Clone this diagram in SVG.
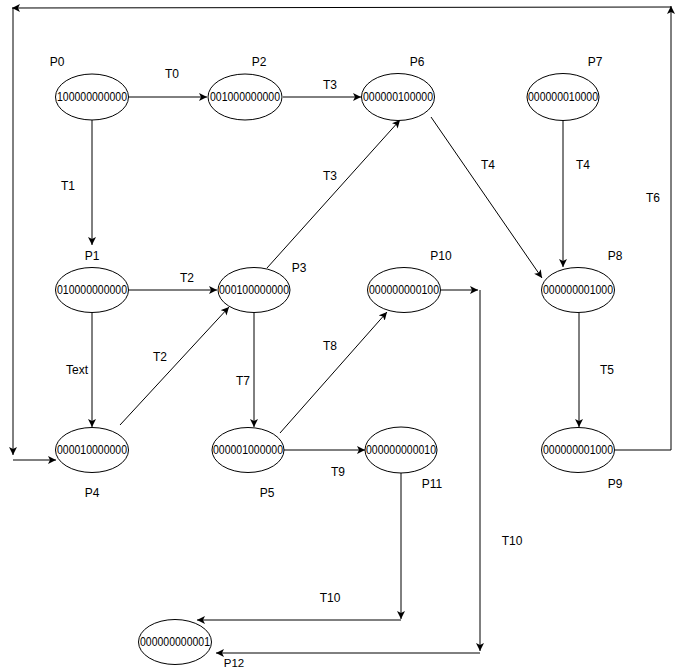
<svg xmlns="http://www.w3.org/2000/svg" width="676" height="669" viewBox="0 0 676 669">
<style>
.n ellipse{fill:#fff;stroke:#000;stroke-width:1}
.n text{font-family:"Liberation Sans",Arial,sans-serif;font-size:12px;fill:#000}
.lbl{font-family:"Liberation Sans",Arial,sans-serif;font-size:12px;fill:#000;text-anchor:middle}
.e path,.e line{fill:none;stroke:#000;stroke-width:1}
</style>
<defs>
<marker id="a" markerUnits="userSpaceOnUse" markerWidth="10" markerHeight="10" refX="8" refY="4" orient="auto">
<path d="M0,0 L8,4 L0,8 L2,4 z" fill="#000"/>
</marker>
</defs>
<rect width="676" height="669" fill="#fff"/>
<g class="e" id="connectors">
<line x1="129" y1="97" x2="207" y2="97" marker-end="url(#a)"/>
<line x1="283" y1="97" x2="361" y2="97" marker-end="url(#a)"/>
<line x1="92" y1="120" x2="92" y2="245" marker-end="url(#a)"/>
<line x1="267" y1="268" x2="400" y2="120" marker-end="url(#a)"/>
<line x1="431" y1="117" x2="542" y2="278" marker-end="url(#a)"/>
<line x1="563" y1="120" x2="563" y2="267" marker-end="url(#a)"/>
<line x1="129" y1="290" x2="217" y2="290" marker-end="url(#a)"/>
<line x1="92" y1="313" x2="92" y2="427" marker-end="url(#a)"/>
<line x1="120" y1="425" x2="229" y2="307" marker-end="url(#a)"/>
<line x1="254" y1="313" x2="254" y2="427" marker-end="url(#a)"/>
<line x1="280" y1="433" x2="387" y2="312" marker-end="url(#a)"/>
<line x1="283" y1="450" x2="365" y2="450" marker-end="url(#a)"/>
<line x1="441" y1="290" x2="478" y2="290" marker-end="url(#a)"/>
<line x1="480" y1="290" x2="480" y2="651" marker-end="url(#a)"/>
<line x1="480" y1="653" x2="216" y2="653" marker-end="url(#a)"/>
<line x1="401" y1="473" x2="401" y2="619" marker-end="url(#a)"/>
<line x1="401" y1="620" x2="197" y2="620" marker-end="url(#a)"/>
<line x1="579" y1="313" x2="579" y2="427" marker-end="url(#a)"/>
<path d="M615,450 L671,450 L671,6" marker-end="url(#a)"/>
<line x1="671" y1="7" x2="12" y2="8" marker-end="url(#a)"/>
<line x1="13" y1="8" x2="13" y2="455" marker-end="url(#a)"/>
<line x1="13" y1="460" x2="56" y2="460" marker-end="url(#a)"/>
</g>
<g class="n" id="P0"><ellipse cx="92" cy="97" rx="36.5" ry="23"/><text x="57" y="101" textLength="70" lengthAdjust="spacingAndGlyphs">100000000000</text></g>
<g class="n" id="P2"><ellipse cx="245" cy="97" rx="37" ry="23"/><text x="210" y="101" textLength="70" lengthAdjust="spacingAndGlyphs">001000000000</text></g>
<g class="n" id="P6"><ellipse cx="398" cy="97" rx="36.5" ry="23.5"/><text x="363" y="101" textLength="70" lengthAdjust="spacingAndGlyphs">000000100000</text></g>
<g class="n" id="P7"><ellipse cx="563" cy="97" rx="36" ry="23.5"/><text x="528" y="101" textLength="70" lengthAdjust="spacingAndGlyphs">000000010000</text></g>
<g class="n" id="P1"><ellipse cx="92" cy="290" rx="36.5" ry="22.5"/><text x="57" y="294" textLength="70" lengthAdjust="spacingAndGlyphs">010000000000</text></g>
<g class="n" id="P3"><ellipse cx="254" cy="290" rx="36" ry="22.5"/><text x="219" y="294" textLength="70" lengthAdjust="spacingAndGlyphs">000100000000</text></g>
<g class="n" id="P10"><ellipse cx="404" cy="290" rx="36.5" ry="22.5"/><text x="369" y="294" textLength="70" lengthAdjust="spacingAndGlyphs">000000000100</text></g>
<g class="n" id="P8"><ellipse cx="578" cy="290" rx="36.5" ry="22.5"/><text x="543" y="294" textLength="70" lengthAdjust="spacingAndGlyphs">000000001000</text></g>
<g class="n" id="P4"><ellipse cx="92" cy="450" rx="36.5" ry="22.5"/><text x="57" y="454" textLength="70" lengthAdjust="spacingAndGlyphs">000010000000</text></g>
<g class="n" id="P5"><ellipse cx="248" cy="450" rx="36" ry="22.5"/><text x="213" y="454" textLength="70" lengthAdjust="spacingAndGlyphs">000001000000</text></g>
<g class="n" id="P11"><ellipse cx="401" cy="450" rx="36" ry="23"/><text x="366" y="454" textLength="70" lengthAdjust="spacingAndGlyphs">000000000010</text></g>
<g class="n" id="P9"><ellipse cx="578" cy="450" rx="36.5" ry="22.5"/><text x="543" y="454" textLength="70" lengthAdjust="spacingAndGlyphs">000000001000</text></g>
<g class="n" id="P12"><ellipse cx="175" cy="642" rx="36.5" ry="22.5"/><text x="140" y="646" textLength="70" lengthAdjust="spacingAndGlyphs">000000000001</text></g>
<g id="labels">
<text class="lbl" x="57" y="66">P0</text>
<text class="lbl" x="259" y="66">P2</text>
<text class="lbl" x="417" y="66">P6</text>
<text class="lbl" x="595" y="66">P7</text>
<text class="lbl" x="172" y="78">T0</text>
<text class="lbl" x="330" y="89">T3</text>
<text class="lbl" x="68" y="190">T1</text>
<text class="lbl" x="330" y="180">T3</text>
<text class="lbl" x="488" y="169">T4</text>
<text class="lbl" x="583" y="169">T4</text>
<text class="lbl" x="653" y="202">T6</text>
<text class="lbl" x="92" y="260">P1</text>
<text class="lbl" x="187" y="282">T2</text>
<text class="lbl" x="299" y="272">P3</text>
<text class="lbl" x="441" y="260">P10</text>
<text class="lbl" x="615" y="260">P8</text>
<text class="lbl" x="77" y="374">Text</text>
<text class="lbl" x="160" y="361">T2</text>
<text class="lbl" x="330" y="350">T8</text>
<text class="lbl" x="243" y="385">T7</text>
<text class="lbl" x="607" y="374">T5</text>
<text class="lbl" x="92" y="497">P4</text>
<text class="lbl" x="267" y="497">P5</text>
<text class="lbl" x="338" y="476">T9</text>
<text class="lbl" x="432" y="488">P11</text>
<text class="lbl" x="615" y="488">P9</text>
<text class="lbl" x="512" y="545">T10</text>
<text class="lbl" x="330" y="602">T10</text>
<text class="lbl" x="234" y="667" style="font-size:11.5px">P12</text>
</g>
</svg>
